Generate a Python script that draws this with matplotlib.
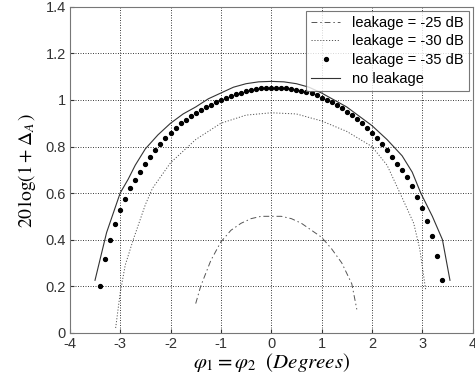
import numpy as np
from matplotlib import pyplot as plt

plt.rcParams['font.family'] = 'Liberation Sans'
plt.rcParams['mathtext.fontset'] = 'stix'
plt.rcParams['axes.unicode_minus'] = False

# leakage = -25 dB
x_25 = [-1.5, -1.4, -1.2, -1.0, -0.8, -0.6, -0.4, -0.2, 0.0, 0.2, 0.4, 0.6, 0.8, 1.0, 1.2, 1.4, 1.6, 1.7]
y_25 = [0.125, 0.20, 0.31, 0.39, 0.44, 0.47, 0.49, 0.50, 0.50, 0.50, 0.49, 0.47, 0.44, 0.41, 0.36, 0.30, 0.21, 0.10]

# leakage = -30 dB
x_30 = [-3.09, -3.0, -2.9, -2.74, -2.5, -2.36, -2.0, -1.5, -1.0, -0.5, 0.0, 0.5, 1.0, 1.5, 2.0, 2.3, 2.6,
        2.83, 2.95, 3.07]
y_30 = [0.02, 0.17, 0.29, 0.40, 0.55, 0.62, 0.73, 0.83, 0.90, 0.935, 0.945, 0.94, 0.91, 0.865, 0.80, 0.72,
        0.58, 0.47, 0.36, 0.18]

# leakage = -35 dB (dots every 0.1 deg)
x_35 = np.linspace(-3.4, 3.4, 69)
y_35 = [0.20, 0.315, 0.40, 0.467, 0.528, 0.575, 0.62, 0.655, 0.69, 0.725, 0.755, 0.785, 0.81, 0.835, 0.86,
        0.88, 0.90, 0.915, 0.93, 0.945, 0.958, 0.97, 0.98, 0.99, 1.0, 1.01, 1.018, 1.025, 1.032, 1.038,
        1.043, 1.047, 1.05, 1.05, 1.05,
        1.05, 1.05, 1.05, 1.048, 1.045, 1.04, 1.035, 1.028, 1.02, 1.01, 1.0, 0.99, 0.978, 0.965, 0.95,
        0.935, 0.92, 0.90, 0.88, 0.86, 0.835, 0.81, 0.785, 0.755, 0.725, 0.70, 0.667, 0.63, 0.585, 0.535,
        0.48, 0.415, 0.33, 0.225]

# no leakage
x_no = [-3.5, -3.27, -3.0, -2.84, -2.7, -2.5, -2.25, -2.0, -1.75, -1.5, -1.25, -1.0, -0.75, -0.5, -0.25, 0.0,
        0.25, 0.5, 0.75, 1.0, 1.25, 1.5, 1.75, 2.0, 2.3, 2.6, 2.8, 2.97, 3.2, 3.4, 3.55]
y_no = [0.225, 0.43, 0.60, 0.66, 0.72, 0.79, 0.85, 0.90, 0.94, 0.97, 1.005, 1.03, 1.055, 1.07, 1.078, 1.08,
        1.078, 1.07, 1.055, 1.03, 1.0, 0.97, 0.93, 0.89, 0.83, 0.76, 0.69, 0.60, 0.50, 0.40, 0.225]

fig = plt.figure(figsize=(4.75, 3.85), dpi=100)
ax = fig.add_axes([0.147, 0.136, 0.848, 0.846])

ax.plot(x_25, y_25, color='#555555', lw=0.7, linestyle=(0, (6, 3, 1.5, 3)), label='leakage = -25 dB')
ax.plot(x_30, y_30, color='#555555', lw=0.7, linestyle=(0, (1.2, 1.8)), label='leakage = -30 dB')
ax.plot(x_35, y_35, 'o', color='black', markersize=2.8, label='leakage = -35 dB')
ax.plot(x_no, y_no, color='#333333', lw=0.8, label='no leakage')

ax.set_xlim(-4, 4)
ax.set_ylim(0, 1.4)
ax.set_xticks(range(-4, 5))
ax.set_yticks([0, 0.2, 0.4, 0.6, 0.8, 1.0, 1.2, 1.4])
ax.set_yticklabels(['0', '0.2', '0.4', '0.6', '0.8', '1', '1.2', '1.4'])
ax.grid(True, color='#222222', linestyle=(0, (1.2, 1.8)), lw=0.6)
ax.tick_params(direction='in', length=3, labelsize=10.5, colors='#333333', pad=3)
for s in ax.spines.values():
    s.set_color('#777777')
    s.set_linewidth(0.8)

ax.set_xlabel(r'$\varphi_1 = \varphi_2\ \ (Degrees)$', fontsize=15, labelpad=0)
ax.set_ylabel(r'$\mathrm{20\,log}(1+\Delta_A\,)$', fontsize=14, labelpad=5)

leg = ax.legend(loc='upper right', fontsize=10.5, frameon=True, fancybox=False, borderaxespad=0.25,
                handlelength=2.0, handletextpad=0.8, labelspacing=0.33, borderpad=0.35)
leg.get_frame().set_edgecolor('#555555')
leg.get_frame().set_linewidth(0.8)

plt.savefig('out.png', dpi=100)
